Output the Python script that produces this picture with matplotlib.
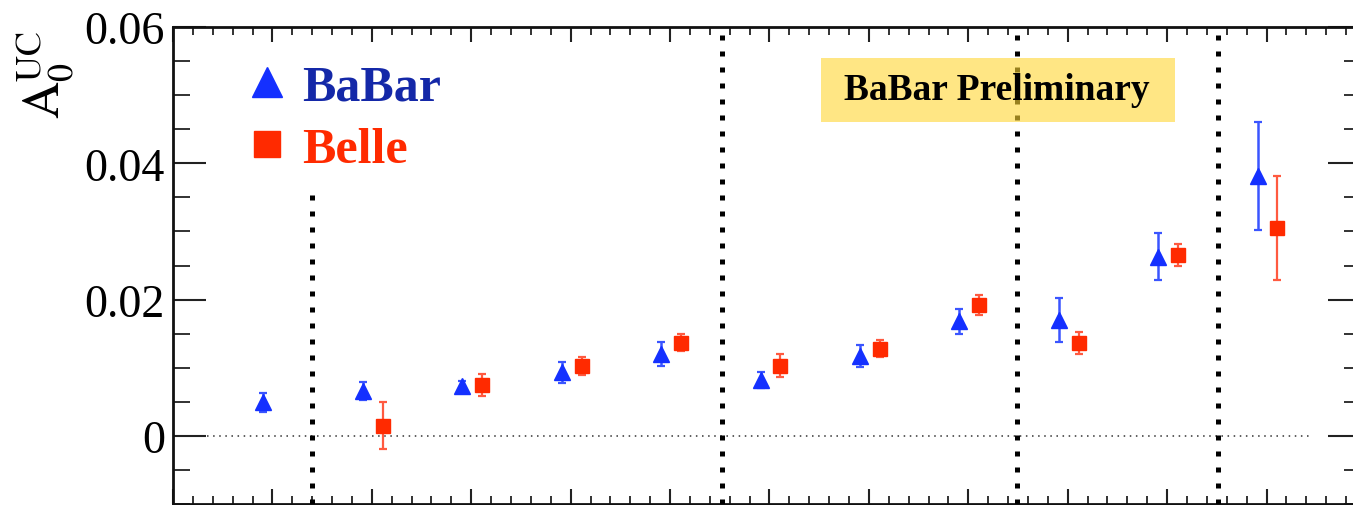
import matplotlib
matplotlib.use("Agg")
import matplotlib.pyplot as plt
from matplotlib.lines import Line2D
from matplotlib.patches import Rectangle
from matplotlib.ticker import MultipleLocator
import numpy as np

# bin numbers; BaBar drawn a bit left of the bin, Belle a bit right
bins = np.arange(1, 12)
babar_val = [0.0049, 0.0066, 0.0073, 0.0093, 0.0120, 0.0082, 0.0117, 0.0168, 0.0170, 0.0263, 0.0381]
babar_err = [0.0014, 0.0013, 0.0008, 0.0016, 0.0018, 0.0012, 0.0016, 0.0018, 0.0032, 0.0034, 0.0079]
belle_bins = bins[1:]
belle_val = [0.0015, 0.0075, 0.0102, 0.0137, 0.0103, 0.0128, 0.0192, 0.0136, 0.0265, 0.0305]
belle_err = [0.0034, 0.0016, 0.0013, 0.0013, 0.0017, 0.0012, 0.0015, 0.0016, 0.0016, 0.0076]
separators = [1.40, 5.52, 8.49, 10.51]
sep_top = [0.0358, 0.06, 0.06, 0.06]

blue = "#1430ff"
blue_txt = "#1428a8"
red = "#ff2a00"
serif = "Liberation Serif"

plt.rcParams["mathtext.fontset"] = "stix"

fig = plt.figure(figsize=(13.53, 5.06), dpi=100)
ax = fig.add_axes([173 / 1353, 1 / 506, 1188 / 1353, 477 / 506])
ax.set_xlim(0, 11.95)
ax.set_ylim(-0.01, 0.06)

ax.errorbar(bins - 0.09, babar_val, yerr=babar_err, fmt="^", color=blue, ms=11.5,
            elinewidth=1.8, capsize=3, capthick=1.6, ecolor="#3a55ff", zorder=4)
ax.errorbar(belle_bins + 0.11, belle_val, yerr=belle_err, fmt="s", color=red, ms=10.5,
            elinewidth=1.6, capsize=3, capthick=1.6, ecolor="#ff5a40", zorder=4)

ax.vlines(separators, -0.01, sep_top, colors="black", linewidth=3.6,
          linestyles=[(0, (1, 2.2))], zorder=3)
ax.hlines(0, 0.34, 11.46, colors="#333333", linewidth=1.1,
          linestyles=[(0, (1, 3))], zorder=2)

ax.xaxis.set_major_locator(MultipleLocator(1))
ax.xaxis.set_minor_locator(MultipleLocator(0.2))
ax.yaxis.set_major_locator(MultipleLocator(0.02))
ax.yaxis.set_minor_locator(MultipleLocator(0.005))
ax.tick_params(axis="both", which="both", direction="in", top=True, right=True,
               color="#222222")
ax.tick_params(axis="x", which="major", length=11, width=1.5, labelbottom=False)
ax.tick_params(axis="x", which="minor", length=5.8, width=1.3)
ax.tick_params(axis="y", which="major", length=24, width=1.5, pad=5.8,
               labelsize=33)
ax.tick_params(axis="y", which="minor", length=12, width=1.3)
ax.set_yticks([0, 0.02, 0.04, 0.06])
ax.set_yticklabels(["0", "0.02", "0.04", "0.06"], family=serif)
for s in ax.spines.values():
    s.set_linewidth(2)
    s.set_color("#111111")

fig.text(45 / 1353, 1 - 30 / 506, r"$\mathrm{A_0^{UC}}$", rotation=90,
         ha="center", va="top", fontsize=37)

handles = [Line2D([], [], marker="^", ls="none", color=blue, ms=21),
           Line2D([], [], marker="s", ls="none", color=red, ms=19)]
leg = ax.legend(handles, ["BaBar", "Belle"], loc="upper left",
                bbox_to_anchor=(0.058, 0.922), frameon=False,
                prop=dict(family=serif, weight="bold", size=36),
                handlelength=1.0, handletextpad=0.2, labelspacing=0.33,
                borderpad=0, borderaxespad=0)
for t, c in zip(leg.get_texts(), [blue_txt, red]):
    t.set_color(c)

ax.add_patch(Rectangle((0.5455, 0.8008), 0.298, 0.134, transform=ax.transAxes,
                       facecolor="#ffd633", alpha=0.6, edgecolor="none", zorder=6))
ax.text(0.6936, 0.868, "BaBar Preliminary", transform=ax.transAxes, ha="center",
        va="center", family=serif, weight="bold", fontsize=27, zorder=7)

fig.savefig("out.png", dpi=100)
